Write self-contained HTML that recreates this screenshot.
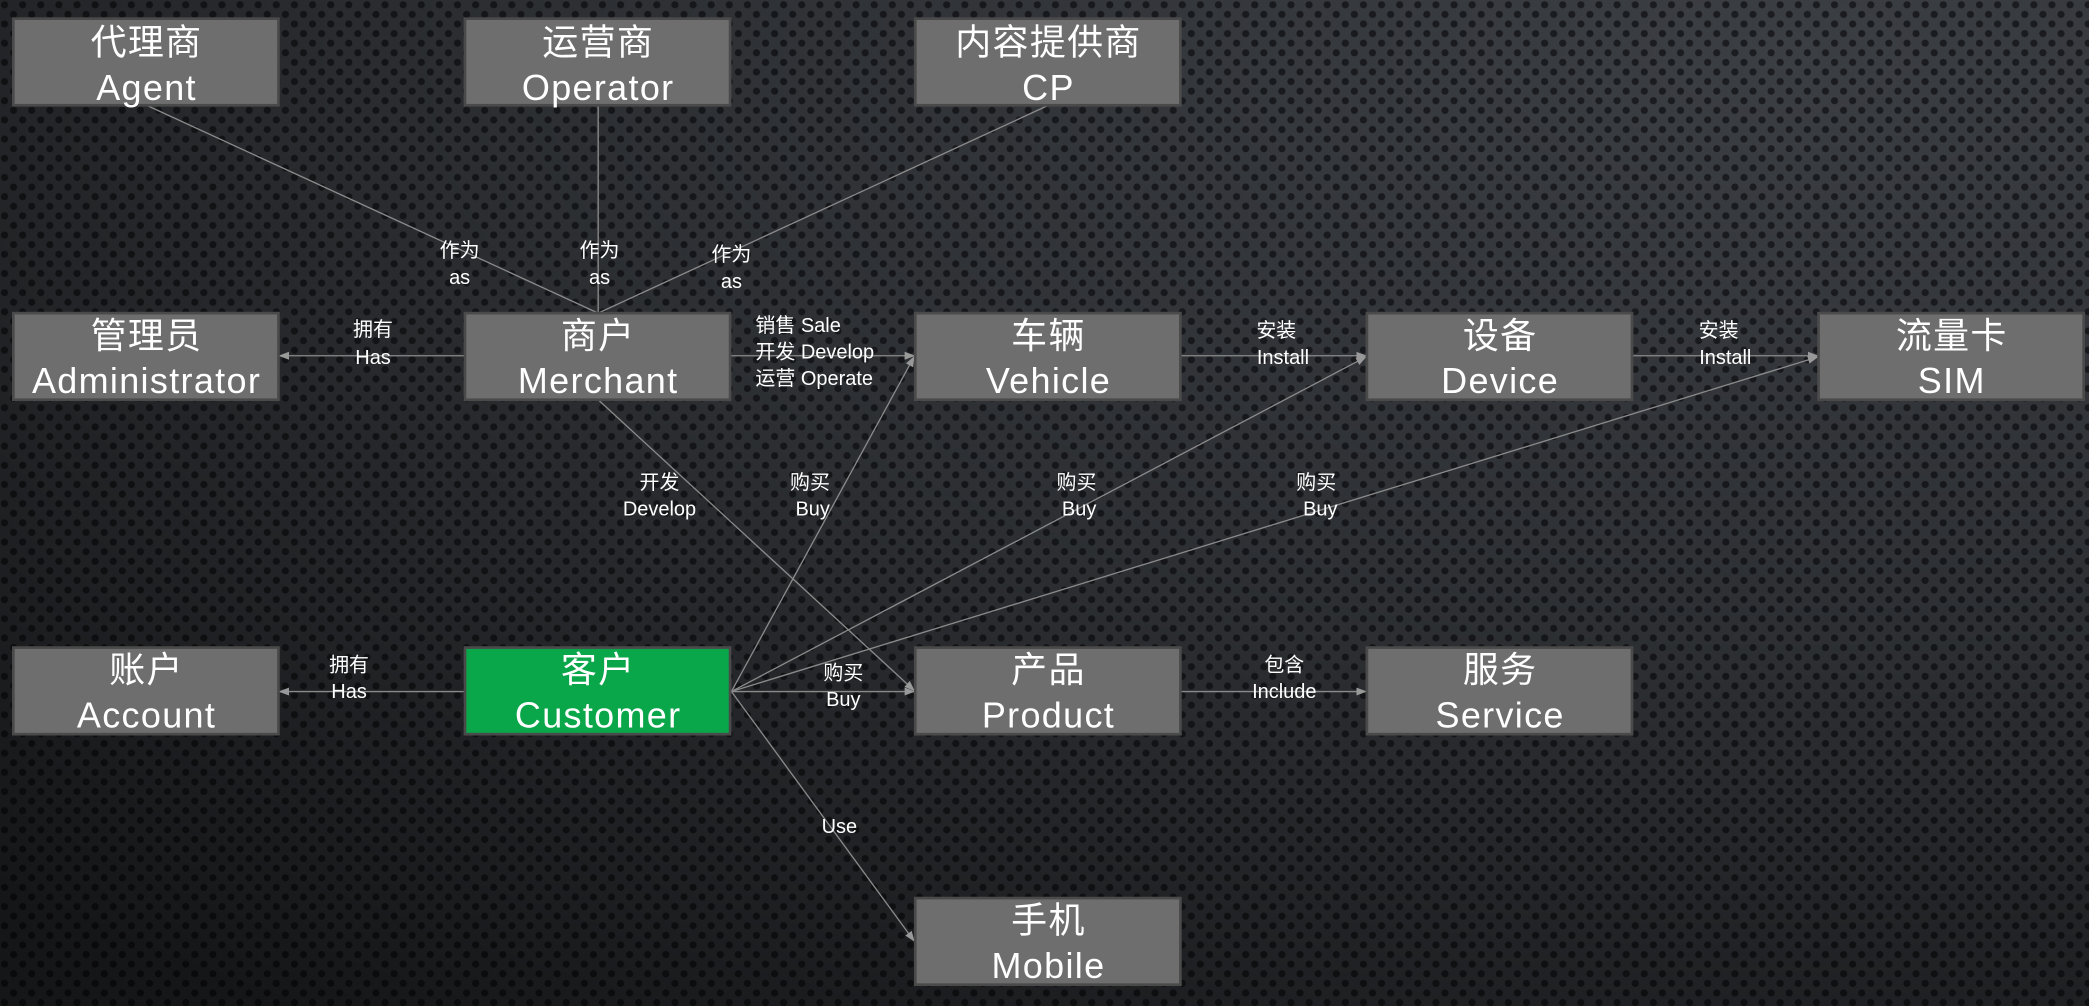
<!DOCTYPE html>
<html><head><meta charset="utf-8"><style>
html,body{margin:0;padding:0;background:#222;}
svg{display:block}
text{font-family:"Liberation Sans","Noto Sans CJK SC",sans-serif;fill:#fff;}
</style></head><body>
<svg width="2089" height="1006" viewBox="0 0 1568 755" preserveAspectRatio="none" xmlns="http://www.w3.org/2000/svg">
<defs>
<pattern id="dots" x="0" y="0" width="13.6" height="14.4" patternUnits="userSpaceOnUse">
<rect width="13.6" height="14.4" fill="#3b3e43"/>
<circle cx="3.4" cy="3.6" r="2.7" fill="#1b1d21"/>
<circle cx="10.2" cy="10.8" r="2.7" fill="#1b1d21"/>
</pattern>
<radialGradient id="shade" cx="0.85" cy="0.05" r="1.2">
<stop offset="0" stop-color="#000" stop-opacity="0"/>
<stop offset="0.5" stop-color="#000" stop-opacity="0.25"/>
<stop offset="1" stop-color="#000" stop-opacity="0.65"/>
</radialGradient>
<marker id="ar" markerWidth="8" markerHeight="8" refX="7" refY="4" orient="auto" markerUnits="userSpaceOnUse">
<path d="M0,1 L8,4 L0,7 Z" fill="#999"/>
</marker>
</defs>
<rect width="1568" height="755" fill="url(#dots)"/>
<rect width="1568" height="755" fill="url(#shade)"/>

<g stroke="#8a8a8a" stroke-width="1" fill="none">
<line x1="110" y1="79" x2="449" y2="235"/>
<line x1="449" y1="79" x2="449" y2="235"/>
<line x1="787" y1="79" x2="449" y2="235"/>
<line x1="349" y1="267" x2="210" y2="267" marker-end="url(#ar)"/>
<line x1="547" y1="267" x2="686" y2="267" marker-end="url(#ar)"/>
<line x1="886" y1="267" x2="1025" y2="267" marker-end="url(#ar)"/>
<line x1="1225" y1="267" x2="1364" y2="267" marker-end="url(#ar)"/>
<line x1="449" y1="300" x2="686" y2="518" marker-end="url(#ar)"/>
<line x1="549" y1="519" x2="686" y2="268" marker-end="url(#ar)"/>
<line x1="549" y1="519" x2="1025" y2="268" marker-end="url(#ar)"/>
<line x1="549" y1="519" x2="1364" y2="268" marker-end="url(#ar)"/>
<line x1="549" y1="519" x2="686" y2="519" marker-end="url(#ar)"/>
<line x1="349" y1="519" x2="210" y2="519" marker-end="url(#ar)"/>
<line x1="886" y1="519" x2="1025" y2="519" marker-end="url(#ar)"/>
<line x1="549" y1="519" x2="686" y2="706" marker-end="url(#ar)"/>
</g>

<g font-size="15" text-anchor="middle">
<text x="345" y="193">作为</text><text x="345" y="213">as</text>
<text x="450" y="193">作为</text><text x="450" y="213">as</text>
<text x="549" y="196">作为</text><text x="549" y="216">as</text>
<text x="280" y="252">拥有</text><text x="280" y="273">Has</text>
<text x="567" y="249" text-anchor="start">销售 Sale</text>
<text x="567" y="269" text-anchor="start">开发  Develop</text>
<text x="567" y="289" text-anchor="start">运营 Operate</text>
<text x="958" y="253">安装</text><text x="963" y="273">Install</text>
<text x="1290" y="253">安装</text><text x="1295" y="273">Install</text>
<text x="495" y="367">开发</text><text x="495" y="387">Develop</text>
<text x="608" y="367">购买</text><text x="610" y="387">Buy</text>
<text x="808" y="367">购买</text><text x="810" y="387">Buy</text>
<text x="988" y="367">购买</text><text x="991" y="387">Buy</text>
<text x="262" y="504">拥有</text><text x="262" y="524">Has</text>
<text x="633" y="510">购买</text><text x="633" y="530">Buy</text>
<text x="964" y="504">包含</text><text x="964" y="524">Include</text>
<text x="630" y="625">Use</text>
</g>

<g stroke="#4a4a4a" stroke-width="2" fill="#6e6e6e">
<rect x="10" y="14" width="199" height="65"/>
<rect x="349" y="14" width="199" height="65"/>
<rect x="687" y="14" width="199" height="65"/>
<rect x="10" y="235" width="199" height="65"/>
<rect x="349" y="235" width="199" height="65"/>
<rect x="687" y="235" width="199" height="65"/>
<rect x="1026" y="235" width="199" height="65"/>
<rect x="1365" y="235" width="199" height="65"/>
<rect x="10" y="486" width="199" height="65"/>
<rect x="349" y="486" width="199" height="65" fill="#0aa64a"/>
<rect x="687" y="486" width="199" height="65"/>
<rect x="1026" y="486" width="199" height="65"/>
<rect x="687" y="674" width="199" height="65"/>
</g>

<g font-size="27" text-anchor="middle" letter-spacing="1">
<text x="110" y="41">代理商</text><text x="110" y="75">Agent</text>
<text x="449" y="41">运营商</text><text x="449" y="75">Operator</text>
<text x="787" y="41">内容提供商</text><text x="787" y="75">CP</text>
<text x="110" y="261">管理员</text><text x="110" y="295">Administrator</text>
<text x="449" y="261">商户</text><text x="449" y="295">Merchant</text>
<text x="787" y="261">车辆</text><text x="787" y="295">Vehicle</text>
<text x="1126" y="261">设备</text><text x="1126" y="295">Device</text>
<text x="1465" y="261">流量卡</text><text x="1465" y="295">SIM</text>
<text x="110" y="512">账户</text><text x="110" y="546">Account</text>
<text x="449" y="512">客户</text><text x="449" y="546">Customer</text>
<text x="787" y="512">产品</text><text x="787" y="546">Product</text>
<text x="1126" y="512">服务</text><text x="1126" y="546">Service</text>
<text x="787" y="700">手机</text><text x="787" y="734">Mobile</text>
</g>
</svg>
</body></html>
